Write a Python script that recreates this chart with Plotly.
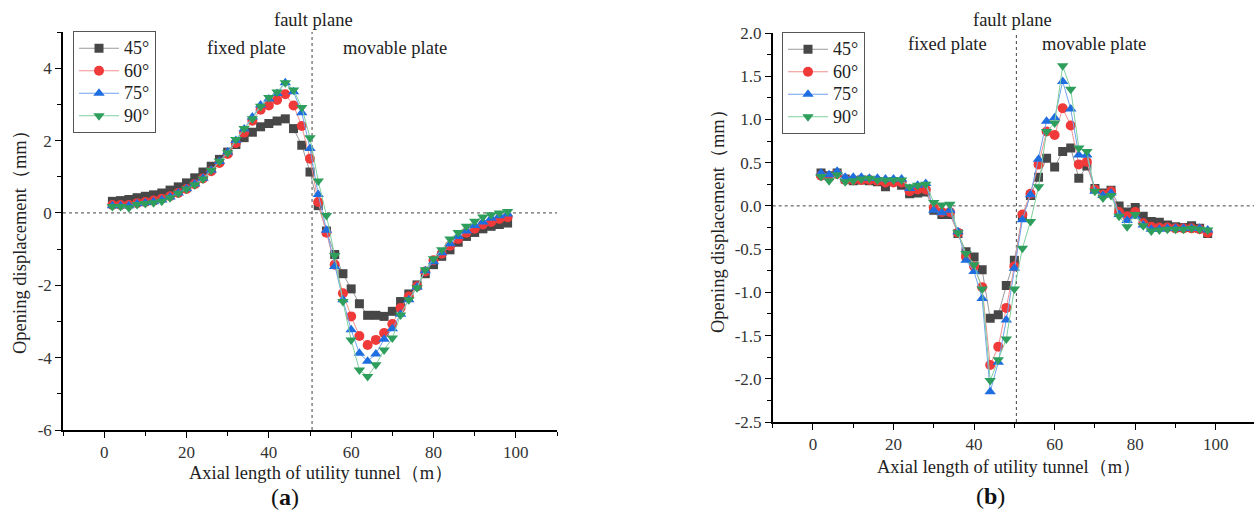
import plotly.graph_objects as go

W, H = 1254, 519

# Axial positions along the utility tunnel (m)
axial_m = list(range(2, 100, 2))

angles = ["45°", "60°", "75°", "90°"]

# (a) opening displacement (mm) for each fault dip angle
open_a_45 = [0.32, 0.34, 0.37, 0.42, 0.46, 0.50, 0.55, 0.63, 0.72, 0.83, 0.97, 1.13, 1.29, 1.48, 1.68, 1.89,
             2.08, 2.23, 2.38, 2.47, 2.54, 2.60,
             2.33, 1.87, 1.13, 0.20, -0.50, -1.15, -1.68, -2.10, -2.51, -2.83, -2.83, -2.86, -2.72, -2.45,
             -2.24, -1.99, -1.68, -1.43, -1.20, -1.02, -0.81, -0.65, -0.54, -0.44, -0.37, -0.32, -0.28]
open_a_60 = [0.22, 0.22, 0.22, 0.27, 0.30, 0.34, 0.39, 0.46, 0.55, 0.66, 0.79, 0.95, 1.15, 1.38, 1.63, 1.93,
             2.22, 2.55, 2.85, 2.97, 3.12, 3.28,
             2.97, 2.40, 1.50, 0.30, -0.55, -1.43, -2.22, -2.86, -3.40, -3.65, -3.51, -3.32, -3.07, -2.63,
             -2.31, -2.03, -1.62, -1.31, -1.13, -0.91, -0.72, -0.55, -0.44, -0.32, -0.25, -0.17, -0.12]
open_a_75 = [0.20, 0.20, 0.20, 0.25, 0.28, 0.31, 0.36, 0.44, 0.55, 0.67, 0.80, 0.96, 1.18, 1.42, 1.68, 2.00,
             2.32, 2.65, 2.98, 3.15, 3.30, 3.60,
             3.35, 2.77, 1.78, 0.51, -0.48, -1.48, -2.40, -3.23, -3.88, -4.10, -3.90, -3.49, -3.20, -2.80,
             -2.40, -2.05, -1.60, -1.35, -1.10, -0.85, -0.65, -0.50, -0.35, -0.25, -0.15, -0.08, -0.03]
open_a_90 = [0.18, 0.18, 0.14, 0.23, 0.26, 0.28, 0.32, 0.42, 0.54, 0.66, 0.78, 0.94, 1.18, 1.43, 1.66, 2.03,
             2.33, 2.60, 2.95, 3.19, 3.34, 3.60,
             3.40, 2.91, 2.08, 0.88, -0.07, -1.18, -2.45, -3.51, -4.34, -4.52, -4.20, -3.79, -3.46, -2.82,
             -2.40, -2.07, -1.57, -1.27, -1.02, -0.72, -0.54, -0.37, -0.23, -0.11, -0.05, 0.00, 0.04]

# (b) opening displacement (mm) for each fault dip angle
open_b_45 = [0.38, 0.35, 0.38, 0.31, 0.29, 0.30, 0.29, 0.28, 0.22, 0.28, 0.24, 0.14, 0.15, 0.16, -0.05, -0.10,
             -0.10, -0.32, -0.53, -0.59, -0.74, -1.30, -1.26, -0.92, -0.63, -0.12, 0.12, 0.33, 0.55, 0.45,
             0.63, 0.67, 0.32, 0.46, 0.20, 0.15, 0.18, 0.00, -0.07, -0.02, -0.12, -0.18, -0.19, -0.22,
             -0.24, -0.25, -0.23, -0.26, -0.32]
open_b_60 = [0.35, 0.33, 0.37, 0.30, 0.30, 0.30, 0.30, 0.29, 0.27, 0.27, 0.27, 0.17, 0.19, 0.19, -0.02, -0.07,
             -0.07, -0.31, -0.59, -0.70, -0.94, -1.84, -1.63, -1.18, -0.70, -0.10, 0.14, 0.48, 0.86, 0.82,
             1.13, 0.93, 0.48, 0.51, 0.19, 0.13, 0.17, -0.07, -0.12, -0.07, -0.20, -0.24, -0.25, -0.25,
             -0.26, -0.26, -0.26, -0.27, -0.31]
open_b_75 = [0.38, 0.36, 0.40, 0.33, 0.33, 0.33, 0.32, 0.32, 0.31, 0.31, 0.31, 0.20, 0.24, 0.26, -0.05, -0.08,
             -0.05, -0.30, -0.63, -0.76, -1.07, -2.15, -1.81, -1.32, -0.72, -0.16, 0.13, 0.54, 0.98, 1.02,
             1.44, 1.12, 0.59, 0.59, 0.17, 0.12, 0.15, -0.10, -0.17, -0.12, -0.22, -0.27, -0.27, -0.26,
             -0.26, -0.26, -0.26, -0.26, -0.28]
open_b_90 = [0.34, 0.29, 0.36, 0.28, 0.29, 0.31, 0.32, 0.30, 0.30, 0.30, 0.30, 0.22, 0.24, 0.25, 0.04, 0.01,
             0.02, -0.31, -0.55, -0.68, -0.96, -2.02, -1.78, -1.54, -0.96, -0.49, -0.18, 0.22, 0.86, 0.96,
             1.62, 1.35, 0.67, 0.63, 0.17, 0.09, 0.12, -0.12, -0.24, -0.10, -0.23, -0.29, -0.28, -0.27,
             -0.27, -0.27, -0.26, -0.27, -0.28]

fault_x = 50.5

x_ticks = [0, 20, 40, 60, 80, 100]
ya_ticks = [-6, -4, -2, 0, 2, 4]
yb_ticks = [-2.5, -2.0, -1.5, -1.0, -0.5, 0.0, 0.5, 1.0, 1.5, 2.0]

marker_colors = ["#474747", "#f03a3a", "#1f6ee0", "#2e9e5c"]
line_colors = ["#9a9a9a", "#f49090", "#6fa3ee", "#7fcf9f"]
symbols = ["square", "circle", "triangle-up", "triangle-down"]
msizes = [9, 10, 10, 10]

FONT = "Liberation Serif, Times New Roman, serif"


def px_x(p):
    return p / W


def px_y(p):
    return 1 - p / H


def hy(v):
    return f"{v:g}"


fig = go.Figure()

series_a = [open_a_45, open_a_60, open_a_75, open_a_90]
series_b = [open_b_45, open_b_60, open_b_75, open_b_90]


def legend_name(name):
    return f"<span style='font-size:18px'>{name}</span>"


for i, name in enumerate(angles):
    fig.add_trace(go.Scatter(
        x=axial_m, y=series_a[i], name=legend_name(name), mode="lines+markers",
        xaxis="x", yaxis="y", legend="legend",
        line=dict(color=line_colors[i], width=1),
        marker=dict(symbol=symbols[i], size=msizes[i], color=marker_colors[i],
                    line=dict(width=0)),
    ))
for i, name in enumerate(angles):
    fig.add_trace(go.Scatter(
        x=axial_m, y=series_b[i], name=legend_name(name), mode="lines+markers",
        xaxis="x2", yaxis="y2", legend="legend2",
        line=dict(color=line_colors[i], width=1),
        marker=dict(symbol=symbols[i], size=msizes[i], color=marker_colors[i],
                    line=dict(width=0)),
    ))

axis_common = dict(
    showline=True, linecolor="black", linewidth=1.5, mirror=False, automargin=False,
    showgrid=False, zeroline=False, ticks="outside", ticklen=6, tickwidth=1.3,
    tickcolor="black", tickfont=dict(family=FONT, size=17, color="#333"),
)

fig.update_layout(
    width=W, height=H, autosize=False,
    margin=dict(l=0, r=0, t=0, b=0, pad=0),
    paper_bgcolor="white", plot_bgcolor="white",
    showlegend=True,
    xaxis=dict(domain=[px_x(63), px_x(557)], range=[-10, 110], anchor="y",
               tickmode="array", tickvals=x_ticks, ticktext=[str(v) for v in x_ticks],
               minor=dict(tickmode="linear", tick0=0, dtick=10, ticks="outside", ticklen=4,
                          tickcolor="black", tickwidth=1.2),
               **axis_common),
    yaxis=dict(domain=[px_y(430), px_y(32)], range=[-6, 5], anchor="x",
               tickmode="array", tickvals=ya_ticks, ticktext=[hy(v) for v in ya_ticks],
               minor=dict(tickmode="linear", tick0=0, dtick=1, ticks="outside", ticklen=4,
                          tickcolor="black", tickwidth=1.2),
               **axis_common),
    xaxis2=dict(domain=[px_x(772.7), 1.0], range=[-10, 109.5], anchor="y2",
                tickmode="array", tickvals=x_ticks, ticktext=[str(v) for v in x_ticks],
                minor=dict(tickmode="linear", tick0=0, dtick=10, ticks="outside", ticklen=4,
                           tickcolor="black", tickwidth=1.2),
                **axis_common),
    yaxis2=dict(domain=[px_y(422), px_y(33)], range=[-2.5, 2.0], anchor="x2",
                tickmode="array", tickvals=yb_ticks,
                ticktext=[f"{v:.1f}" for v in yb_ticks],
                minor=dict(tickmode="linear", tick0=0, dtick=0.25, ticks="outside", ticklen=4,
                           tickcolor="black", tickwidth=1.2),
                **axis_common),
    legend=dict(x=px_x(73), y=px_y(31), xanchor="left", yanchor="top",
                bgcolor="white", bordercolor="#555", borderwidth=1,
                font=dict(family=FONT, size=15, color="#222"),
                tracegroupgap=0, itemwidth=40),
    legend2=dict(x=px_x(782), y=px_y(32), xanchor="left", yanchor="top",
                 bgcolor="white", bordercolor="#555", borderwidth=1,
                 font=dict(family=FONT, size=15, color="#222"),
                 tracegroupgap=0, itemwidth=40),
)

# Reference lines: zero displacement and the fault plane
dash = "3px,3px"
for xa, ya in (("x", "y"), ("x2", "y2")):
    fig.add_shape(type="line", xref=f"{xa} domain", yref=ya, x0=0, x1=1, y0=0, y1=0,
                  line=dict(color="#444", width=1, dash=dash), layer="below")
    fig.add_shape(type="line", xref=xa, yref=f"{ya} domain", x0=fault_x, x1=fault_x, y0=0, y1=1,
                  line=dict(color="#444", width=1, dash=dash), layer="below")

txt = dict(family=FONT, size=18.5, color="#222")


def label(text, x, y, angle=0, font=txt):
    fig.add_annotation(text=text, xref="paper", yref="paper", x=px_x(x), y=px_y(y),
                       showarrow=False, xanchor="center", yanchor="middle",
                       textangle=angle, font=font)


label("fault plane", 313, 20)
label("fixed plate", 246, 48)
label("movable plate", 395, 48)
label("fault plane", 1012, 20)
label("fixed plate", 948, 44)
label("movable plate", 1094, 44)

label("Opening displacement（mm）", 20, 238, angle=-90)
label("Opening displacement（mm）", 718, 216, angle=-90)
label("Axial length of utility tunnel（m）", 321, 473)
label("Axial length of utility tunnel（m）", 1009, 467)

big = dict(family=FONT, size=24, color="#111")
label("(<b>a</b>)", 285, 497, font=big)
label("(<b>b</b>)", 990, 496, font=big)

fig.write_html("out.html")
